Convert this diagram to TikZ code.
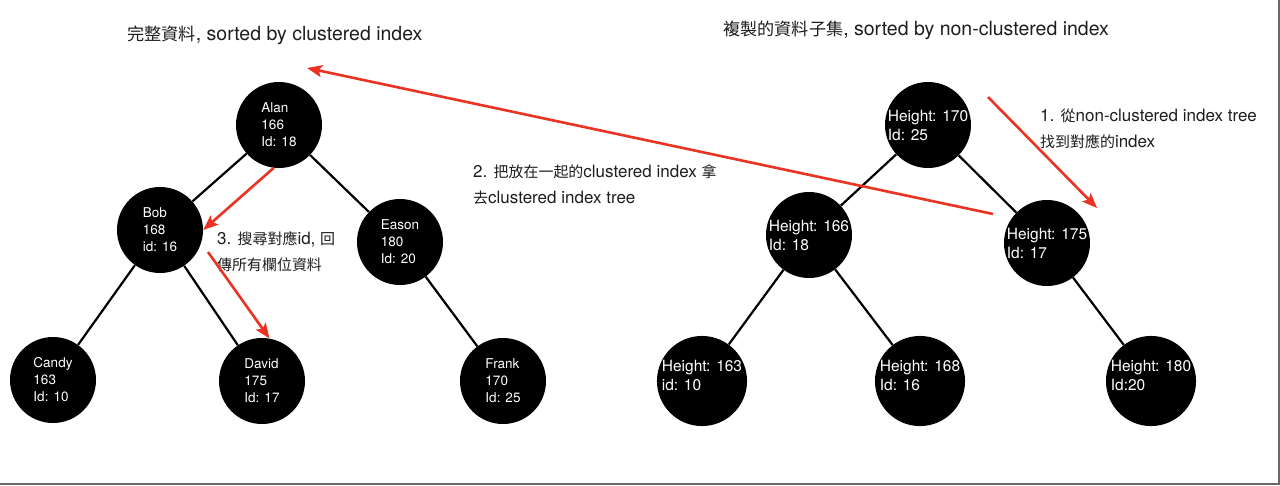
\documentclass[tikz,border=0pt]{standalone}
\usepackage{fontspec}
\setmainfont{TeX Gyre Heros}
\newfontfamily\cjk[Scale=0.88]{Noto Sans CJK TC}
\usetikzlibrary{arrows.meta}
\definecolor{arrowred}{RGB}{234,51,35}
\definecolor{framegray}{RGB}{105,105,105}
\definecolor{textgray}{RGB}{30,30,30}
\begin{document}
\begin{tikzpicture}[x=1pt,y=-1pt,
  tnode/.style={circle,fill=black,draw=none,minimum size=86pt,inner sep=0pt,text=white,align=left},
  lnode/.style={tnode,font=\fontsize{13.5}{17}\selectfont},
  rnode/.style={tnode,font=\fontsize{15.5}{19}\selectfont},
  rlow/.style={rnode,text depth=11pt},
  treeedge/.style={line width=2.2pt,black},
  redarrow/.style={line width=2.6pt,arrowred,-{Stealth[length=15pt,width=12pt,inset=3pt]}},
  titletext/.style={font=\fontsize{19.5}{24}\selectfont,text=textgray,inner sep=0pt,anchor=west},
  notetext/.style={font=\fontsize{17}{26}\selectfont,text=textgray,inner sep=0pt,anchor=west,align=left}]

\useasboundingbox (0,0) rectangle (1280,485);
\fill[white] (0,0) rectangle (1280,485);

% titles
\node[titletext] (titleL) at (127,35) {{\cjk 完整資料}, sorted by clustered index};
\node[titletext] (titleR) at (723,30) {{\cjk 複製的資料子集}, sorted by non-clustered index};

% left tree
\node[lnode] (alan)  at (279,125) {Alan\\166\\Id: 18};
\node[lnode] (bob)   at (160,230) {Bob\\168\\id: 16};
\node[lnode] (eason) at (400,242) {Eason\\180\\Id: 20};
\node[lnode] (candy) at (53,380)  {Candy\\163\\Id: 10};
\node[lnode] (david) at (262,381) {David\\175\\Id: 17};
\node[lnode] (frank) at (503,381) {Frank\\170\\Id: 25};

% right tree
\node[rnode] (r170) at (928,125)  {Height: 170\\Id: 25};
\node[rnode] (r166) at (809,235)  {Height: 166\\Id: 18};
\node[rnode] (r175) at (1047,243) {Height: 175\\Id: 17};
\node[rlow]  (r163) at (702,381)  {Height: 163\\id: 10};
\node[rlow]  (r168) at (920,381)  {Height: 168\\Id: 16};
\node[rlow]  (r180) at (1151,381) {Height: 180\\Id:20};

% tree edges
\draw[treeedge] (alan) -- (bob);
\draw[treeedge] (alan) -- (eason);
\draw[treeedge] (bob) -- (candy);
\draw[treeedge] (bob) -- (david);
\draw[treeedge] (eason) -- (frank);
\draw[treeedge] (r170) -- (r166);
\draw[treeedge] (r170) -- (r175);
\draw[treeedge] (r166) -- (r163);
\draw[treeedge] (r166) -- (r168);
\draw[treeedge] (r175) -- (r180);

% notes
\node[notetext] (note1) at (1040,129) {1. {\cjk 從}non-clustered index tree\\{\cjk 找到對應的}index};
\node[notetext] (note2) at (473,185) {2. {\cjk 把放在一起的}clustered index {\cjk 拿}\\{\cjk 去}clustered index tree};
\node[notetext] (note3) at (217,252) {3. {\cjk 搜尋對應}id, {\cjk 回}\\{\cjk 傳所有欄位資料}};

% red arrows
\coordinate (a1s) at (988,97);
\coordinate (a1e) at (1097,208);
\coordinate (a2s) at (993,214);
\coordinate (a2e) at (307,68);
\coordinate (a4s) at (208,252);
\draw[redarrow] (a1s) -- (a1e);
\draw[redarrow] (a2s) -- (a2e);
\draw[redarrow] (alan.263) -- (bob.east);
\draw[redarrow] (a4s) -- (david.80);

% screenshot frame
\draw[framegray,line width=2pt] (0,484) -- (1280,484);
\draw[framegray,line width=2pt] (1279,0) -- (1279,485);
\end{tikzpicture}
\end{document}
